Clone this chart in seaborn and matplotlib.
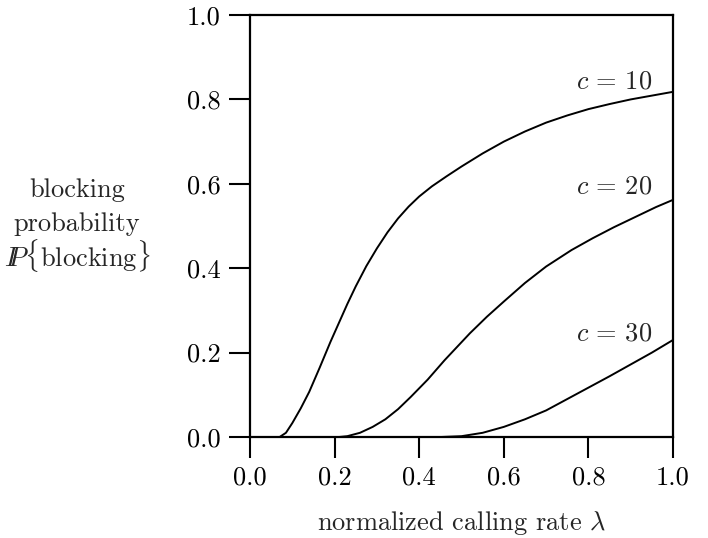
import pandas as pd
import matplotlib
matplotlib.use("Agg")
import matplotlib.pyplot as plt
import seaborn as sns

# ============================================================
# podaci ocitani sa slike
# ============================================================
lam_c10 = [0.0, 0.07, 0.085, 0.10, 0.12, 0.14, 0.165, 0.19, 0.21, 0.23, 0.25,
           0.275, 0.30, 0.325, 0.35, 0.375, 0.40, 0.43, 0.465, 0.50, 0.55,
           0.60, 0.65, 0.70, 0.75, 0.80, 0.85, 0.90, 0.95, 1.0]
p_c10 = [0.0, 0.0, 0.01, 0.033, 0.068, 0.107, 0.165, 0.225, 0.27, 0.315, 0.357,
         0.405, 0.447, 0.485, 0.518, 0.546, 0.570, 0.594, 0.618, 0.641, 0.672,
         0.700, 0.724, 0.745, 0.762, 0.777, 0.789, 0.800, 0.809, 0.818]

lam_c20 = [0.0, 0.21, 0.23, 0.26, 0.29, 0.32, 0.35, 0.38, 0.42, 0.46, 0.52,
           0.56, 0.60, 0.65, 0.70, 0.76, 0.81, 0.86, 0.91, 0.96, 1.0]
p_c20 = [0.0, 0.0, 0.002, 0.01, 0.024, 0.042, 0.066, 0.095, 0.136, 0.182, 0.246,
         0.285, 0.321, 0.365, 0.404, 0.443, 0.471, 0.497, 0.521, 0.545, 0.562]

lam_c30 = [0.0, 0.45, 0.50, 0.55, 0.60, 0.65, 0.70, 0.75, 0.80, 0.85, 0.90, 0.95, 1.0]
p_c30 = [0.0, 0.0, 0.002, 0.01, 0.024, 0.042, 0.063, 0.09, 0.117, 0.144, 0.172, 0.20, 0.23]

curve_labels = ["$c\\,=\\,10$", "$c\\,=\\,20$", "$c\\,=\\,30$"]
label_y = [0.826, 0.577, 0.228]

ylabel_lines = ["blocking", "probability", "$I\\!\\!P\\{\\mathrm{blocking}\\}$"]
ylabel_y = [0.568, 0.488, 0.406]

tick_vals = [0.0, 0.2, 0.4, 0.6, 0.8, 1.0]
tick_labels = ["0.0", "0.2", "0.4", "0.6", "0.8", "1.0"]

df = pd.concat([
    pd.DataFrame({"lam": lam_c10, "p": p_c10, "c": "10"}),
    pd.DataFrame({"lam": lam_c20, "p": p_c20, "c": "20"}),
    pd.DataFrame({"lam": lam_c30, "p": p_c30, "c": "30"}),
])

# ============================================================
# stil
# ============================================================
sns.set_theme(style="ticks")
plt.rcParams["font.family"] = ["cmr10", "DejaVu Serif"]
plt.rcParams["mathtext.fontset"] = "cm"
plt.rcParams["axes.unicode_minus"] = False
plt.rcParams["axes.formatter.use_mathtext"] = True

fig = plt.figure(figsize=(7.08, 5.38), dpi=100)
ax = fig.add_axes([0.3531, 0.1877, 0.5975, 0.7844])

sns.lineplot(data=df, x="lam", y="p", hue="c", palette=["black"] * 3,
             estimator=None, sort=False, legend=False, linewidth=1.4, ax=ax)

ax.set_xlim(0, 1)
ax.set_ylim(0, 1)
ax.set_xticks(tick_vals)
ax.set_xticklabels(tick_labels)
ax.set_yticks(tick_vals)
ax.set_yticklabels(tick_labels)
ax.tick_params(direction="out", length=15, width=1.5, labelsize=19,
               colors="black", pad=6)
for s in ax.spines.values():
    s.set_linewidth(1.6)
    s.set_color("black")

for txt, yy in zip(curve_labels, label_y):
    ax.text(0.95, yy, txt, ha="right", va="baseline", fontsize=19)

ax.set_xlabel("normalized calling rate $\\lambda$", fontsize=19, labelpad=14)
ax.set_ylabel("")
# opis y ose u tri reda, horizontalno levo od ose
for txt, yy in zip(ylabel_lines, ylabel_y):
    ax.text(-0.409, yy, txt, ha="center", va="baseline", fontsize=19,
            transform=ax.transAxes)

plt.savefig("out.png", dpi=100)
